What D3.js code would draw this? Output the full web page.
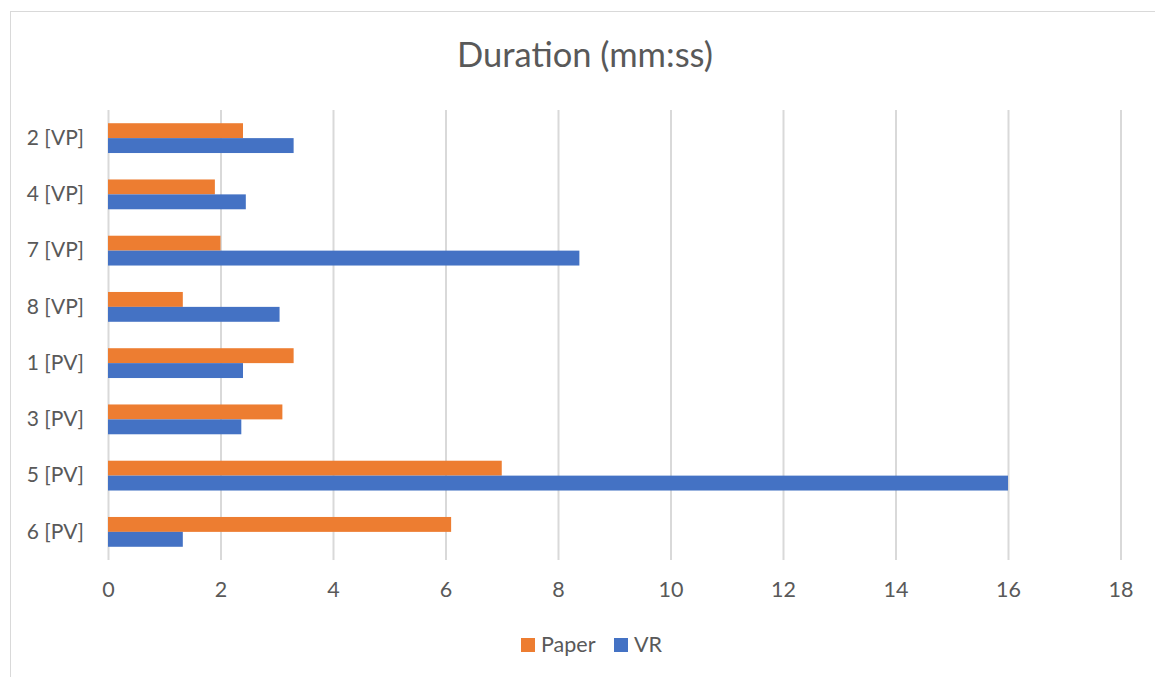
<!DOCTYPE html>
<html>
<head>
<meta charset="utf-8">
<script src="https://cdn.jsdelivr.net/npm/d3@7"></script>
<style>
  html, body { margin: 0; padding: 0; background: #fff; }
  svg { display: block; }
  text { font-family: Lato, "Open Sans", sans-serif; fill: #595959; }
</style>
</head>
<body>
<svg id="chart" width="1155" height="677"></svg>
<script>
const categories = ["2 [VP]", "4 [VP]", "7 [VP]", "8 [VP]", "1 [PV]", "3 [PV]", "5 [PV]", "6 [PV]"];
const seriesNames = ["Paper", "VR"];
const paperValues = [2.4, 1.9, 2.0, 1.33, 3.3, 3.1, 7.0, 6.1];
const vrValues = [3.3, 2.45, 8.38, 3.05, 2.4, 2.37, 16.0, 1.33];
const xTicks = [0, 2, 4, 6, 8, 10, 12, 14, 16, 18];
const colors = ["#ED7D31", "#4472C4"];

const svg = d3.select("#chart");

// chart border
svg.append("rect")
  .attr("x", 10.5).attr("y", 11.5)
  .attr("width", 1300).attr("height", 800)
  .attr("fill", "none").attr("stroke", "#D9D9D9").attr("stroke-width", 1);

const x = d3.scaleLinear().domain([0, 18]).range([108, 1120.5]);
const y = d3.scaleBand().domain(categories).range([110, 560]).paddingInner(0.47).paddingOuter(0.235);
const ySub = d3.scaleBand().domain(seriesNames).range([0, y.bandwidth()]);

// gridlines + x tick labels
const xAxis = d3.axisBottom(x).tickValues(xTicks).tickSize(-450).tickPadding(22).tickFormat(d3.format("d"));
const gx = svg.append("g").attr("transform", "translate(0,560)").call(xAxis);
gx.select(".domain").remove();
gx.selectAll(".tick line").attr("stroke", "#D9D9D9").attr("stroke-width", 2);
gx.selectAll(".tick text").attr("font-size", 21.5).style("font-family", "Lato").attr("fill", "#595959");

// category labels
const yAxis = d3.axisLeft(y).tickSize(0).tickPadding(24);
const gy = svg.append("g").attr("transform", "translate(108,0)").call(yAxis);
gy.select(".domain").remove();
gy.selectAll(".tick text").attr("font-size", 21).style("font-family", "Lato").attr("fill", "#595959");

// bars
const data = categories.map((c, i) => ({ cat: c, vals: [paperValues[i], vrValues[i]] }));
const groups = svg.append("g").selectAll("g").data(data).join("g")
  .attr("transform", d => `translate(0,${y(d.cat)})`);
groups.selectAll("rect").data(d => d.vals.map((v, j) => ({ v, s: seriesNames[j], j })))
  .join("rect")
  .attr("x", x(0))
  .attr("y", d => ySub(d.s))
  .attr("width", d => x(d.v) - x(0))
  .attr("height", ySub.bandwidth())
  .attr("fill", d => colors[d.j]);

// title
svg.append("text")
  .attr("x", 585).attr("y", 67)
  .attr("text-anchor", "middle")
  .attr("font-size", 34.5)
  .text("Duration (mm:ss)");

// legend
const lg = svg.append("g").selectAll("g").data(seriesNames).join("g");
const legendX = d3.scaleOrdinal().domain(seriesNames).range([521, 614]);
lg.append("rect")
  .attr("x", d => legendX(d)).attr("y", 638)
  .attr("width", 14).attr("height", 14)
  .attr("fill", (d, i) => colors[i]);
lg.append("text")
  .attr("x", d => legendX(d) + 20).attr("y", 652)
  .attr("font-size", 21.5)
  .text(d => d);
</script>
</body>
</html>
